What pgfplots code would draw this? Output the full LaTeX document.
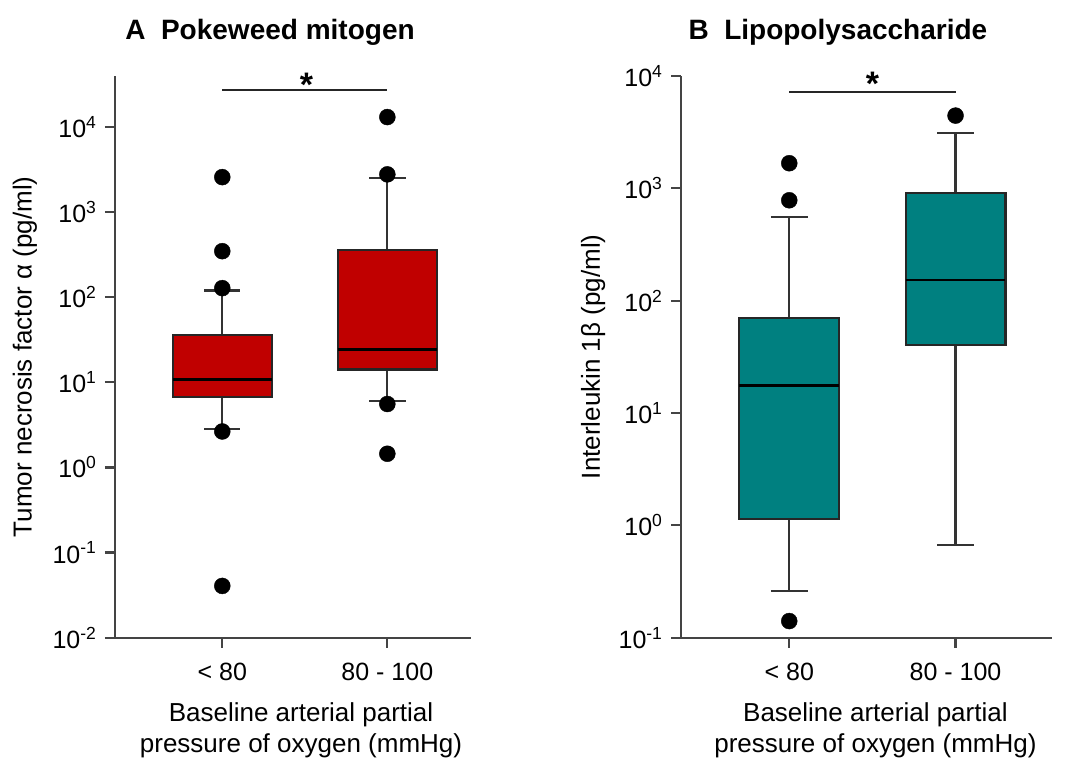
\documentclass[border=0pt]{standalone}
\usepackage{fontspec}
\setmainfont{Liberation Sans}
\setsansfont{Liberation Sans}
\usepackage{pgfplots}
\pgfplotsset{compat=1.18}

\definecolor{boxred}{HTML}{C00000}
\definecolor{boxteal}{HTML}{008080}
\definecolor{axgray}{HTML}{444444}

\newcommand{\fs}{\fontsize{25}{30}\selectfont}
\newcommand{\fl}{\fontsize{26}{31}\selectfont}

\pgfplotsset{
  /pgfplots/mypanel/.style={
    scale only axis, clip=false,
    axis x line*=bottom, axis y line*=left,
    axis line style={-, line width=2.2pt, axgray},
    tick align=outside, major tick length=10pt,
    tick style={line width=2.2pt, axgray},
    yminorticks=false,
    xtick={1,2}, xticklabels={< 80, 80 - 100},
    ticklabel style={font=\fs, text=black},
    xticklabel style={yshift=-12pt},
    yticklabel style={xshift=-5pt},
    label style={font=\fl},
    every axis title shift=0pt,
    title style={font=\fontsize{28}{32}\selectfont\bfseries, anchor=base},
    xlabel style={align=center, anchor=north},
    ylabel style={anchor=center},
  },
  /pgfplots/bx/.style={draw=black!85, line width=2.2pt, fill=#1},
  /pgfplots/wh/.style={black!80, line width=2.2pt},
  /pgfplots/md/.style={black, line width=2.2pt},
  /pgfplots/outl/.style={only marks, mark=*, mark size=8pt, black},
}

\begin{document}
\begin{tikzpicture}
\useasboundingbox (0,0) rectangle (1072pt,758pt);

% ---- A
\begin{axis}[mypanel, ymode=log,
  at={(115pt,120.3pt)}, anchor=south west,
  width=355.7pt, height=561.7pt,
  xmin=0.35, xmax=2.505, ymin=1e-2, ymax=39811,
  ytick={1e-2,1e-1,1,10,100,1000,10000},
  yticklabels={10\textsuperscript{-2},10\textsuperscript{-1},10\textsuperscript{0},10\textsuperscript{1},10\textsuperscript{2},10\textsuperscript{3},10\textsuperscript{4}},
  title={A\hspace{0.55em}Pokeweed mitogen},
  title style={at={(axis description cs:0.436,1.065)}},
  ylabel={Tumor necrosis factor α (pg/ml)},
  ylabel style={at={(axis description cs:-0.253,0.5)}},
  xlabel={Baseline arterial partial\\pressure of oxygen (mmHg)},
  xlabel style={at={(axis description cs:0.523,-0.11)}},
]
% group < 80
\addplot[wh] coordinates {(1,2.83) (1,6.8)};
\addplot[wh] coordinates {(1,35.7) (1,120)};
\addplot[wh] coordinates {(0.89,2.83) (1.11,2.83)};
\addplot[wh] coordinates {(0.89,120) (1.11,120)};
\addplot[bx=boxred] coordinates {(0.7,6.8) (1.3,6.8) (1.3,35.7) (0.7,35.7)} -- cycle;
\addplot[md] coordinates {(0.7,10.8) (1.3,10.8)};
% group 80 - 100
\addplot[wh] coordinates {(2,6.04) (2,14.2)};
\addplot[wh] coordinates {(2,357) (2,2540)};
\addplot[wh] coordinates {(1.89,6.04) (2.11,6.04)};
\addplot[wh] coordinates {(1.89,2540) (2.11,2540)};
\addplot[bx=boxred] coordinates {(1.7,14.2) (2.3,14.2) (2.3,357) (1.7,357)} -- cycle;
\addplot[md] coordinates {(1.7,24.4) (2.3,24.4)};
\addplot[outl] coordinates {(1,2580) (1,348) (1,128) (1,2.65) (1,0.0406)};
\addplot[outl] coordinates {(2,13100) (2,2780) (2,5.57) (2,1.45)};
\addplot[black!85, line width=2.2pt] coordinates {(1,27000) (2,27000)};
\node[font=\fontsize{34}{34}\selectfont\bfseries, inner sep=0pt, anchor=north]
  at (axis cs:1.51,43000) {*};
\end{axis}

% ---- B
\begin{axis}[mypanel, ymode=log,
  at={(681pt,120.3pt)}, anchor=south west,
  width=371pt, height=561.7pt,
  xmin=0.349, xmax=2.58, ymin=0.1, ymax=1e4,
  ytick={1e-1,1,10,100,1000,10000},
  yticklabels={10\textsuperscript{-1},10\textsuperscript{0},10\textsuperscript{1},10\textsuperscript{2},10\textsuperscript{3},10\textsuperscript{4}},
  title={B\hspace{0.55em}Lipopolysaccharide},
  title style={at={(axis description cs:0.423,1.065)}},
  ylabel={Interleukin 1β (pg/ml)},
  ylabel style={at={(axis description cs:-0.237,0.5)}},
  xlabel={Baseline arterial partial\\pressure of oxygen (mmHg)},
  xlabel style={at={(axis description cs:0.524,-0.11)}},
]
% group < 80
\addplot[wh] coordinates {(1,0.26) (1,1.13)};
\addplot[wh] coordinates {(1,70.6) (1,560)};
\addplot[wh] coordinates {(0.89,0.26) (1.11,0.26)};
\addplot[wh] coordinates {(0.89,560) (1.11,560)};
\addplot[bx=boxteal] coordinates {(0.7,1.13) (1.3,1.13) (1.3,70.6) (0.7,70.6)} -- cycle;
\addplot[md] coordinates {(0.7,17.6) (1.3,17.6)};
% group 80 - 100
\addplot[wh] coordinates {(2,0.668) (2,40.6)};
\addplot[wh] coordinates {(2,904) (2,3097)};
\addplot[wh] coordinates {(1.89,0.668) (2.11,0.668)};
\addplot[wh] coordinates {(1.89,3097) (2.11,3097)};
\addplot[bx=boxteal] coordinates {(1.7,40.6) (2.3,40.6) (2.3,904) (1.7,904)} -- cycle;
\addplot[md] coordinates {(1.7,154) (2.3,154)};
\addplot[outl] coordinates {(1,1673) (1,783) (1,0.1406)};
\addplot[outl] coordinates {(2,4440)};
\addplot[black!85, line width=2.2pt] coordinates {(1,7175) (2,7175)};
\node[font=\fontsize{34}{34}\selectfont\bfseries, inner sep=0pt, anchor=north]
  at (axis cs:1.5,10800) {*};
\end{axis}
\end{tikzpicture}
\end{document}
